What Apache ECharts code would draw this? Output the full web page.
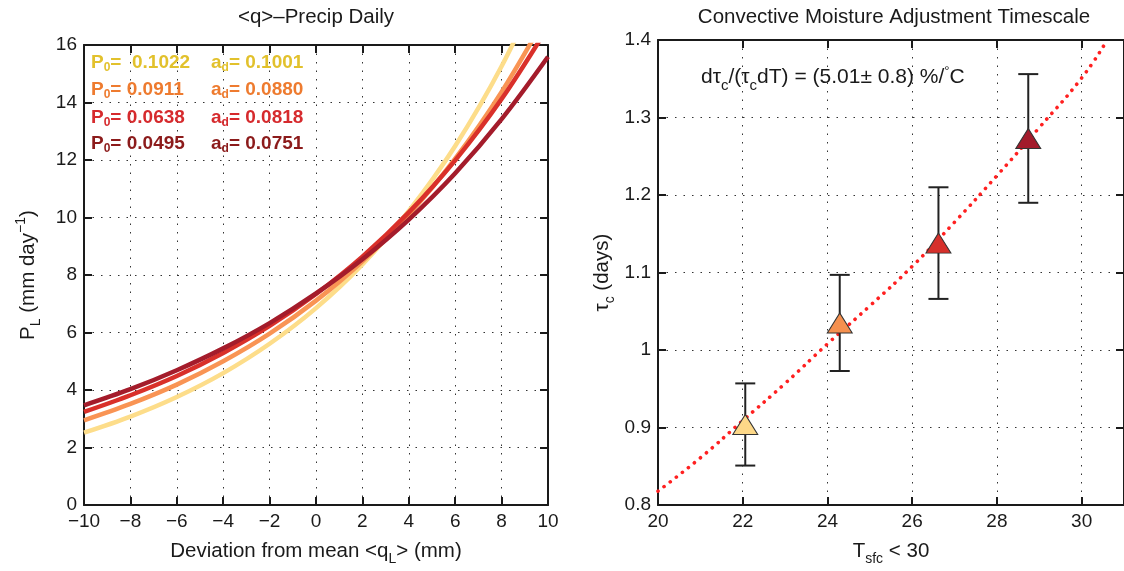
<!DOCTYPE html>
<html><head><meta charset="utf-8">
<script src="https://cdn.jsdelivr.net/npm/echarts@6/dist/echarts.min.js"></script>
<style>html,body{margin:0;padding:0;background:#fff}#c{width:1124px;height:571px}</style>
</head><body><div id="c"></div>
<script>
// ---------- data ----------
const qDev      = [-10, -8, -6, -4, -2, 0, 2, 4, 6, 8, 10];
const pYellow   = [2.52, 3.08, 3.76, 4.59, 5.61, 6.85, 8.37, 10.23, 12.49, 15.26, 18.64];
const pOrange   = [2.95, 3.52, 4.19, 5.00, 5.96, 7.11, 8.48, 10.11, 12.05, 14.37, 17.13];
const pRed      = [3.24, 3.82, 4.49, 5.29, 6.23, 7.34, 8.64, 10.18, 11.99, 14.12, 16.63];
const pDarkRed  = [3.47, 4.03, 4.69, 5.45, 6.33, 7.36, 8.55, 9.93, 11.54, 13.42, 15.59];
const legendP0  = ['0.1022', '0.0911', '0.0638', '0.0495'];
const legendAd  = ['0.1001', '0.0880', '0.0818', '0.0751'];

const tsfc      = [22.06, 24.29, 26.62, 28.74];
const tauC      = [0.904, 1.035, 1.138, 1.273];
const tauErr    = [0.053, 0.062, 0.072, 0.083];
const fitT      = [20, 21, 22, 23, 24, 25, 26, 27, 28, 29, 30, 30.56];
const fitTau    = [0.818, 0.861, 0.909, 0.957, 1.008, 1.057, 1.108, 1.165, 1.225, 1.287, 1.351, 1.396];

const leftXRange  = [-10, 10, 2];
const leftYRange  = [0, 16, 2];
const rightXRange = [20, 31, 2];
const rightYRange = [0.8, 1.4, 0.1];

// ---------- styles ----------
const F = "'Liberation Sans', Arial, Helvetica, sans-serif";
const INK = '#1a1a1a';
const lineCols  = ['#fddd8a', '#f99454', '#d9302a', '#a41c2b'];
const textCols  = ['#e2c12c', '#ee7b2f', '#d62a2d', '#8c1b1b'];
const markCols  = ['#fdd888', '#f5904f', '#d6302b', '#a31b2b'];
const curves = [pYellow, pOrange, pRed, pDarkRed];

const grid = [
  {left: 84, top: 45, width: 464, height: 461},
  {left: 658, top: 40, width: 471, height: 472}
];

function minus(v){ return v < 0 ? '\u2212' + Math.abs(v) : String(v); }

function axis(kind, gridIndex, pos, range, withLabel, extra){
  const a = {
    type: 'value', gridIndex, position: pos,
    min: range[0], max: range[1], interval: range[2],
    axisLine: {show: true, onZero: false, lineStyle: {color: INK, width: 2}},
    axisTick: {show: true, inside: true, length: 8, lineStyle: {color: INK, width: 2}},
    axisLabel: {show: withLabel, fontSize: 19, color: INK, fontFamily: F, margin: 7, formatter: minus},
    splitLine: {show: withLabel, lineStyle: {color: '#333', width: 1, type: [1.5, 7]}}
  };
  return Object.assign(a, extra || {});
}

const nameRich = {
  n: {fontSize: 20.5, fontFamily: F, color: INK, lineHeight: 24},
  s: {fontSize: 14, fontFamily: F, color: INK, lineHeight: 14, padding: [16, 0, 0, 0]},
  p: {fontSize: 14, fontFamily: F, color: INK, lineHeight: 14, padding: [0, 0, 14, 0]}
};

const xAxes = [
  axis('x', 0, 'bottom', leftXRange, true, {
    name: '{n|Deviation from mean <q}{s|L}{n|> (mm)}', nameLocation: 'middle', nameGap: 25,
    nameTextStyle: {rich: nameRich}
  }),
  axis('x', 0, 'top', leftXRange, false),
  axis('x', 1, 'bottom', rightXRange, true, {
    name: '{n|T}{s|sfc}{n| < 30}', nameLocation: 'middle', nameGap: 28,
    nameTextStyle: {rich: nameRich}
  }),
  axis('x', 1, 'top', rightXRange, false)
];
xAxes[2].axisLabel.showMaxLabel = false;

const yAxes = [
  axis('y', 0, 'left', leftYRange, true, {
    name: '{n|P}{s|L}{n| (mm day}{p|\u22121}{n|)}', nameLocation: 'middle', nameGap: 44, nameRotate: 90,
    nameTextStyle: {rich: nameRich}
  }),
  axis('y', 0, 'right', leftYRange, false),
  axis('y', 1, 'left', rightYRange, true, {
    name: '{n|\u03c4}{s|c}{n| (days)}', nameLocation: 'middle', nameGap: 44, nameRotate: 90,
    nameTextStyle: {rich: nameRich}
  }),
  axis('y', 1, 'right', rightYRange, false)
];
yAxes[2].axisLabel.formatter = v => String(Math.round(v * 10) / 10);

// ---------- series ----------
const series = [];
curves.forEach((arr, i) => {
  series.push({
    type: 'line', xAxisIndex: 0, yAxisIndex: 0, smooth: 0.35, showSymbol: false, clip: true,
    data: qDev.map((q, k) => [q, arr[k]]),
    lineStyle: {color: lineCols[i], width: 4.5}, z: 3 + i
  });
});
series.push({
  type: 'line', xAxisIndex: 2, yAxisIndex: 2, smooth: true, showSymbol: false, clip: true,
  data: fitT.map((t, k) => [t, fitTau[k]]),
  lineStyle: {color: '#ff2020', width: 3.6, type: [0.1, 7.6], cap: 'round'}, z: 3
});
series.push({
  type: 'custom', xAxisIndex: 2, yAxisIndex: 2, z: 4,
  data: tsfc.map((t, k) => [t, tauC[k] - tauErr[k], tauC[k] + tauErr[k]]),
  encode: {x: 0, y: [1, 2]},
  renderItem: function(params, api){
    const x = api.value(0);
    const lo = api.coord([x, api.value(1)]);
    const hi = api.coord([x, api.value(2)]);
    const hw = 10;
    const st = {stroke: '#222', lineWidth: 2};
    return {type: 'group', children: [
      {type: 'line', shape: {x1: lo[0], y1: lo[1], x2: hi[0], y2: hi[1]}, style: st},
      {type: 'line', shape: {x1: lo[0] - hw, y1: lo[1], x2: lo[0] + hw, y2: lo[1]}, style: st},
      {type: 'line', shape: {x1: hi[0] - hw, y1: hi[1], x2: hi[0] + hw, y2: hi[1]}, style: st}
    ]};
  }
});
series.push({
  type: 'scatter', xAxisIndex: 2, yAxisIndex: 2, z: 6,
  symbol: 'triangle', symbolSize: [25, 20],
  data: tsfc.map((t, k) => ({value: [t, tauC[k]], itemStyle: {color: markCols[k], borderColor: '#333', borderWidth: 1, opacity: 1}}))
});

// ---------- texts ----------
const titles = [
  {text: '<q>\u2013Precip Daily', left: 316, top: 7, textAlign: 'center', padding: 0,
   textStyle: {fontSize: 20.5, fontWeight: 'normal', fontFamily: F, color: INK}},
  {text: 'Convective Moisture Adjustment Timescale', left: 894, top: 7, textAlign: 'center', padding: 0,
   textStyle: {fontSize: 20.5, fontWeight: 'normal', fontFamily: F, color: INK}},
  {text: '{n|d\u03c4}{s|c}{n|/(\u03c4}{s|c}{n|dT) = (5.01\u00b1 0.8) %/}{p|\u00b0}{n|C}', left: 701, top: 65, padding: 0,
   textStyle: {fontWeight: 'normal', rich: {
     n: {fontSize: 21, fontWeight: 'normal', fontFamily: F, color: INK, lineHeight: 24},
     s: {fontSize: 15, fontWeight: 'normal', fontFamily: F, color: INK, lineHeight: 15, padding: [18, 0, 0, 0]},
     p: {fontSize: 13, fontWeight: 'normal', fontFamily: F, color: INK, lineHeight: 13, padding: [0, 0, 12, 0]}
   }}}
];
const rowTops = [52, 79, 107, 133];
legendP0.forEach((p0, i) => {
  const rich = {
    b: {fontSize: 19, fontWeight: 'bold', fontFamily: F, color: textCols[i], lineHeight: 22},
    s: {fontSize: 12, fontWeight: 'bold', fontFamily: F, color: textCols[i], lineHeight: 12, padding: [9, 0, 0, 0]}
  };
  const gap = i === 0 ? '=  ' : '= ';
  titles.push({text: '{b|P}{s|0}{b|' + gap + p0 + '}', left: 91, top: rowTops[i], padding: 0, textStyle: {rich}});
  titles.push({text: '{b|a}{s|d}{b|= ' + legendAd[i] + '}', left: 211, top: rowTops[i], padding: 0, textStyle: {rich}});
});

const chart = echarts.init(document.getElementById('c'), null, {renderer: 'canvas'});
chart.setOption({
  animation: false,
  backgroundColor: '#fff',
  title: titles,
  grid: grid,
  xAxis: xAxes,
  yAxis: yAxes,
  series: series
});
</script>
</body></html>
